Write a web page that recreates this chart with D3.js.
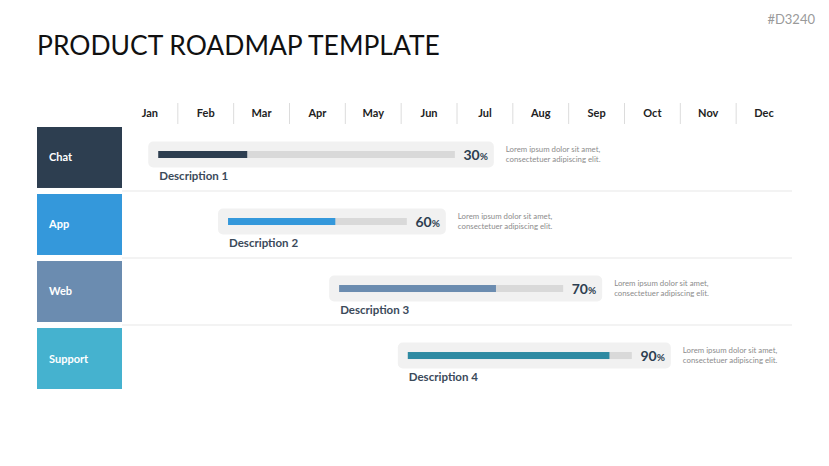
<!DOCTYPE html>
<html>
<head>
<meta charset="utf-8">
<script src="https://cdn.jsdelivr.net/npm/d3@7"></script>
<style>
  html, body { margin: 0; padding: 0; background: #fff; }
  svg { display: block; }
  text { font-family: Lato, "Open Sans", sans-serif; }
</style>
</head>
<body>
<svg id="chart" width="829" height="466"></svg>
<script>
// ---- data ----
const months = ["Jan","Feb","Mar","Apr","May","Jun","Jul","Aug","Sep","Oct","Nov","Dec"];
const categories = ["Chat","App","Web","Support"];
const descriptions = ["Description 1","Description 2","Description 3","Description 4"];
const values = [30, 60, 70, 90];               // percent complete
const startMonth = [0.47, 1.72, 3.71, 4.94];    // task start (month units)
const endMonth = [6.66, 5.80, 8.60, 9.83];      // task end (month units)
const notes = ["Lorem ipsum dolor sit amet,", "consectetuer adipiscing elit."];
const boxColors = ["#2d3e50", "#3498db", "#6b8cb0", "#45b2cf"];
const fillColors = ["#2d3e50", "#3498db", "#6b8cb0", "#2e8aa2"];
const title = "PRODUCT ROADMAP TEMPLATE";
const code = "#D3240";

// ---- layout ----
const svg = d3.select("#chart");
const x = d3.scaleLinear().domain([0, 12]).range([122, 792]);
const xm = d3.scaleBand().domain(months).range([122, 792]);
const y = d3.scaleBand().domain(categories).range([127, 389]).paddingInner(0.09);

// code tag
svg.append("text").attr("x", 815).attr("y", 24).attr("text-anchor", "end")
  .attr("font-size", 13).attr("fill", "#9a9a9a").text(code);

// title
const t = svg.append("text").attr("x", 37).attr("y", 55)
  .attr("font-size", 28).attr("fill", "#111").text(title);
const tw = t.node().getComputedTextLength();
t.attr("font-size", 28 * 403 / tw);

// months
svg.append("g").selectAll("text").data(months).join("text")
  .attr("x", d => xm(d) + xm.bandwidth() / 2)
  .attr("y", 117)
  .attr("text-anchor", "middle")
  .attr("font-size", 11).attr("font-weight", "bold").attr("fill", "#222")
  .text(d => d);
svg.append("g").selectAll("line").data(months.slice(1)).join("line")
  .attr("x1", d => xm(d)).attr("x2", d => xm(d))
  .attr("y1", 103).attr("y2", 124)
  .attr("stroke", "#dcdcdc").attr("stroke-width", 1);

// row separators
svg.append("g").selectAll("line").data(categories.slice(1)).join("line")
  .attr("x1", 122).attr("x2", 792)
  .attr("y1", d => y(d) - y.step() * y.paddingInner() / 2)
  .attr("y2", d => y(d) - y.step() * y.paddingInner() / 2)
  .attr("stroke", "#efefef").attr("stroke-width", 1.5);

// category boxes
const rows = svg.append("g").selectAll("g").data(categories).join("g")
  .attr("transform", d => `translate(0,${y(d)})`);
rows.append("rect")
  .attr("x", 37).attr("y", 0).attr("width", 85).attr("height", y.bandwidth())
  .attr("fill", (d, i) => boxColors[i]);
rows.append("text")
  .attr("x", 49).attr("y", y.bandwidth() / 2 + 4)
  .attr("font-size", 11).attr("font-weight", "bold").attr("fill", "#fff")
  .text(d => d);

// task containers
const cTop = 14.5, cH = 26, pad = 10, rightPad = 39, trackH = 7;
rows.append("rect")
  .attr("x", (d, i) => x(startMonth[i]))
  .attr("y", cTop)
  .attr("width", (d, i) => x(endMonth[i]) - x(startMonth[i]))
  .attr("height", cH).attr("rx", 5)
  .attr("fill", "#f1f1f1");

const trackX = i => x(startMonth[i]) + pad;
const trackW = i => x(endMonth[i]) - rightPad - trackX(i);
rows.append("rect")
  .attr("x", (d, i) => trackX(i))
  .attr("y", cTop + (cH - trackH) / 2)
  .attr("width", (d, i) => trackW(i))
  .attr("height", trackH)
  .attr("fill", "#d9d9d9");
rows.append("rect")
  .attr("x", (d, i) => trackX(i))
  .attr("y", cTop + (cH - trackH) / 2)
  .attr("width", (d, i) => d3.scaleLinear().domain([0, 100]).range([0, trackW(i)])(values[i]))
  .attr("height", trackH)
  .attr("fill", (d, i) => fillColors[i]);

// percent labels
const pct = rows.append("text")
  .attr("x", (d, i) => x(endMonth[i]) - 6)
  .attr("y", cTop + cH / 2 + 5)
  .attr("text-anchor", "end")
  .attr("fill", "#2d3e50").attr("font-weight", "bold");
pct.append("tspan").attr("font-size", 14).text((d, i) => values[i]);
pct.append("tspan").attr("font-size", 10).text("%");

// descriptions
rows.append("text")
  .attr("x", (d, i) => trackX(i) + 1)
  .attr("y", cTop + cH + 12)
  .attr("font-size", 11.5).attr("font-weight", "bold").attr("fill", "#3b4a5a")
  .text((d, i) => descriptions[i]);

// notes
rows.each(function (d, i) {
  const g = d3.select(this);
  g.append("g").selectAll("text").data(notes).join("text")
    .attr("x", x(endMonth[i]) + 12)
    .attr("y", (n, j) => cTop + 10 + j * 10)
    .attr("font-size", 7.8).attr("fill", "#8c8c8c")
    .text(n => n);
});
</script>
</body>
</html>
